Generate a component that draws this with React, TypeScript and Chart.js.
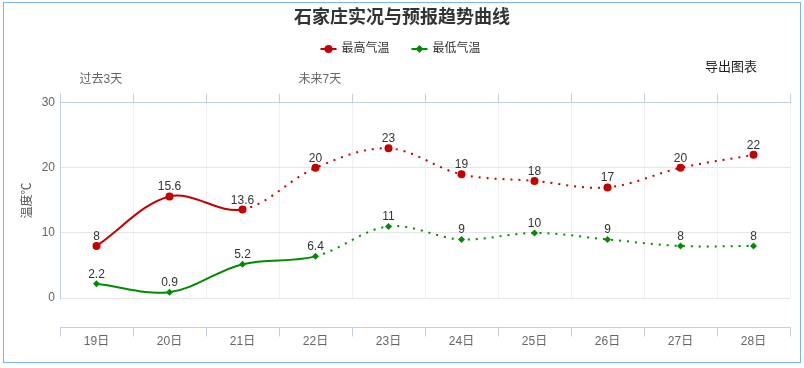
import React, { useEffect, useRef } from "react";
import { Chart, registerables } from "chart.js";

Chart.register(...registerables);

const categories = ["19日", "20日", "21日", "22日", "23日", "24日", "25日", "26日", "27日", "28日"];
const highTemps = [8, 15.6, 13.6, 20, 23, 19, 18, 17, 20, 22];
const lowTemps = [2.2, 0.9, 5.2, 6.4, 11, 9, 10, 9, 8, 8];
const highSolidUntil = 2; // last index with observed (solid) high line
const lowSolidUntil = 3; // last index with solid low line
const yMin = 0;
const yMax = 30;
const yStep = 10;
const titleText = "石家庄实况与预报趋势曲线";
const seriesNames = ["最高气温", "最低气温"];
const yTitle = "温度℃";
const periodNotes = [
  { text: "过去3天", startIndex: 0 },
  { text: "未来7天", startIndex: 3 },
];
const exportText = "导出图表";

const RED = "#c40000";
const GREEN = "#008c00";
const AXIS = "#c0d0e0";
const FONT = "'Liberation Sans', 'Noto Sans CJK SC', sans-serif";

const decorPlugin = {
  id: "decor",
  afterDatasetsDraw(chart: any) {
    const ctx = chart.ctx;
    ctx.save();
    ctx.font = `12px ${FONT}`;
    ctx.fillStyle = "#333";
    ctx.textAlign = "center";
    ctx.textBaseline = "alphabetic";
    chart.data.datasets.forEach((ds: any, i: number) => {
      const meta = chart.getDatasetMeta(i);
      meta.data.forEach((pt: any, j: number) => {
        ctx.fillText(String(ds.data[j]), pt.x, pt.y - 6);
      });
    });
    ctx.restore();
  },
  afterDraw(chart: any) {
    const ctx = chart.ctx;
    const xs = chart.scales.x;
    const area = chart.chartArea;
    ctx.save();
    // frame
    ctx.strokeStyle = "#7fb4ea";
    ctx.lineWidth = 1;
    ctx.strokeRect(3.5, 2.5, 797, 360);

    // offset bottom axis
    const half = (xs.getPixelForValue(1) - xs.getPixelForValue(0)) / 2;
    const axisY = Math.round(area.bottom + 29) + 0.5;
    ctx.strokeStyle = AXIS;
    ctx.beginPath();
    ctx.moveTo(xs.left, axisY);
    ctx.lineTo(xs.right, axisY);
    for (let i = 0; i <= categories.length; i++) {
      const bx = Math.round(xs.getPixelForValue(0) - half + i * 2 * half) + 0.5;
      ctx.moveTo(bx, axisY);
      ctx.lineTo(bx, axisY + 9);
    }
    ctx.stroke();

    // period notes
    ctx.font = `12px ${FONT}`;
    ctx.fillStyle = "#666";
    ctx.textAlign = "left";
    ctx.textBaseline = "middle";
    periodNotes.forEach((n) => {
      const bx = xs.getPixelForValue(n.startIndex) - half;
      ctx.fillText(n.text, bx + 19.5, 80);
    });

    // export text
    ctx.font = `13px ${FONT}`;
    ctx.fillStyle = "#222";
    ctx.fillText(exportText, 705, 67);

    // legend
    const colors = [RED, GREEN];
    const legendX = [320.5, 411.5];
    const ly = 49;
    ctx.font = `12px ${FONT}`;
    seriesNames.forEach((name, i) => {
      const x0 = legendX[i];
      ctx.strokeStyle = colors[i];
      ctx.fillStyle = colors[i];
      ctx.lineWidth = 2;
      ctx.beginPath();
      ctx.moveTo(x0, ly);
      ctx.lineTo(x0 + 16, ly);
      ctx.stroke();
      ctx.beginPath();
      if (i === 0) {
        ctx.arc(x0 + 8, ly, 4, 0, Math.PI * 2);
      } else {
        ctx.moveTo(x0 + 8, ly - 4);
        ctx.lineTo(x0 + 12, ly);
        ctx.lineTo(x0 + 8, ly + 4);
        ctx.lineTo(x0 + 4, ly);
        ctx.closePath();
      }
      ctx.fill();
      ctx.fillStyle = "#333";
      ctx.fillText(name, x0 + 21, ly);
    });
    ctx.restore();
  },
};

export default function App() {
  const ref = useRef<HTMLCanvasElement | null>(null);
  useEffect(() => {
    document.body.style.margin = "0";
    if (!ref.current) return;
    const chart = new Chart(ref.current, {
      type: "line",
      data: {
        labels: categories,
        datasets: [
          {
            label: seriesNames[0],
            data: highTemps,
            borderColor: RED,
            backgroundColor: RED,
            pointBackgroundColor: RED,
            pointBorderColor: RED,
            pointRadius: 4,
            pointBorderWidth: 0,
            pointStyle: "circle",
            borderWidth: 2,
            tension: 0.35,
            fill: false,
            segment: {
              borderDash: (c: any) => (c.p0DataIndex >= highSolidUntil ? [2, 6] : undefined),
            },
          },
          {
            label: seriesNames[1],
            data: lowTemps,
            borderColor: GREEN,
            backgroundColor: GREEN,
            pointBackgroundColor: GREEN,
            pointBorderColor: GREEN,
            pointRadius: 3.5,
            pointBorderWidth: 0,
            pointStyle: "rectRot",
            borderWidth: 2,
            tension: 0.35,
            fill: false,
            segment: {
              borderDash: (c: any) => (c.p0DataIndex >= lowSolidUntil ? [2, 6] : undefined),
            },
          },
        ],
      },
      options: {
        animation: false,
        responsive: false,
        layout: { padding: { left: 0, right: 0, top: 0, bottom: 0 } },
        plugins: {
          legend: { display: false },
          tooltip: { enabled: false },
          title: {
            display: true,
            text: titleText,
            color: "#333",
            font: { size: 18, weight: "bold", family: FONT },
            padding: { top: 7, bottom: 44.2 },
          },
        },
        scales: {
          x: {
            type: "category",
            position: "bottom",
            offset: true,
            grid: { offset: true, color: "#f0f0f0", drawTicks: false },
            border: { display: false },
            ticks: { color: "#666", font: { size: 12, family: FONT }, padding: 36 },
            afterFit: (s: any) => {
              s.height = 70;
            },
          },
          x2: {
            type: "category",
            position: "top",
            labels: categories,
            offset: true,
            grid: { offset: true, drawOnChartArea: false, drawTicks: true, tickLength: 9, color: AXIS },
            border: { color: AXIS },
            ticks: { display: false },
            afterFit: (s: any) => {
              s.height = 30;
            },
          },
          y: {
            min: yMin,
            max: yMax,
            ticks: { stepSize: yStep, color: "#666", font: { size: 12, family: FONT }, padding: 5 },
            grid: {
              drawTicks: false,
              color: (c: any) => (c.tick && c.tick.value === yMax ? AXIS : "#e6e6e6"),
            },
            border: { color: AXIS },
            title: {
              display: true,
              text: yTitle,
              color: "#555",
              font: { size: 12, family: FONT },
              padding: { top: 20, bottom: 0 },
            },
            afterFit: (s: any) => {
              s.width = 60;
            },
          },
          yRightSpacer: {
            position: "right",
            min: yMin,
            max: yMax,
            grid: { display: false, drawTicks: false },
            border: { display: false },
            ticks: { display: false },
            afterFit: (s: any) => {
              s.width = 14;
            },
          },
        },
      },
      plugins: [decorPlugin],
    } as any);
    return () => chart.destroy();
  }, []);
  return (
    <div style={{ width: 804, height: 368 }}>
      <canvas ref={ref} width={804} height={368} style={{ display: "block" }} />
    </div>
  );
}
